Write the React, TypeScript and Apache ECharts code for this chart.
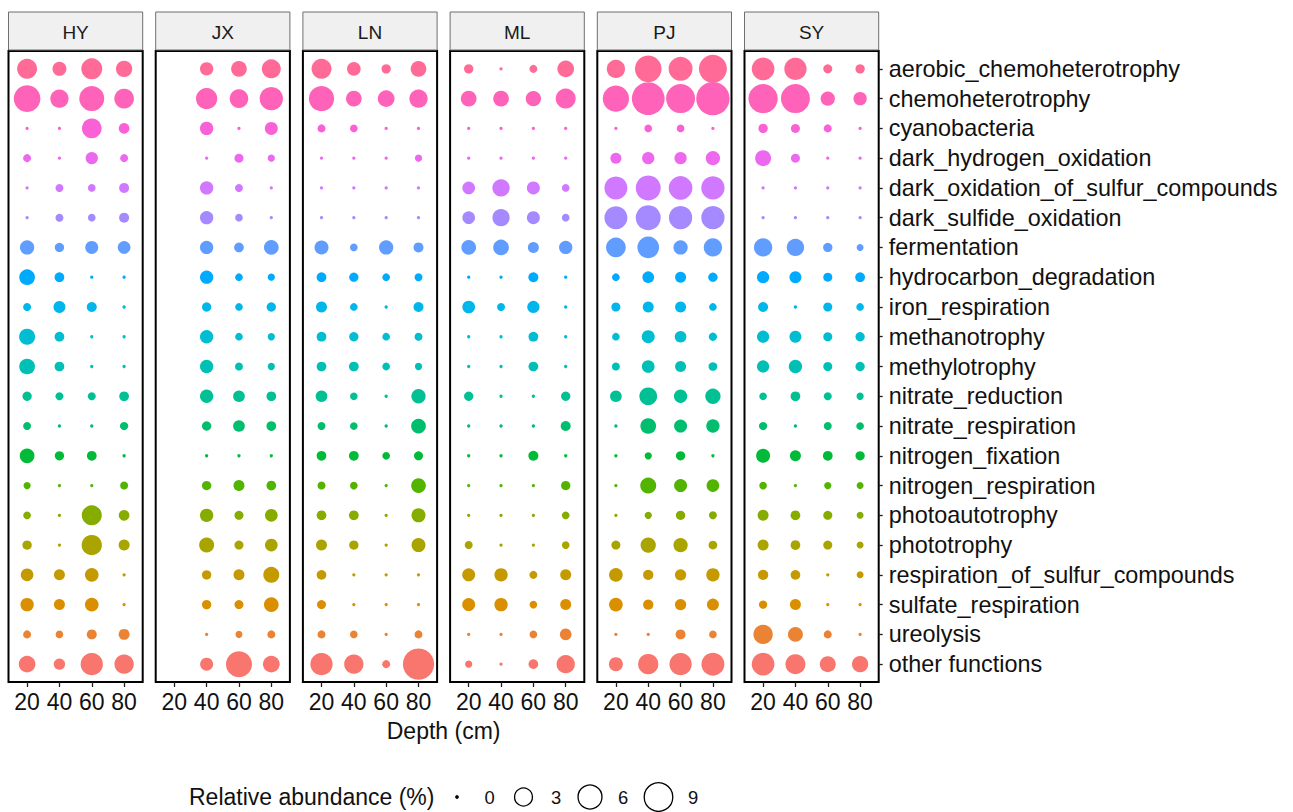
import React, { useEffect, useRef } from "react";
import * as echarts from "echarts";

const SITES = ["HY", "JX", "LN", "ML", "PJ", "SY"];
const DEPTHS = [20, 40, 60, 80];
const FUNCTIONS = [
  "aerobic_chemoheterotrophy",
  "chemoheterotrophy",
  "cyanobacteria",
  "dark_hydrogen_oxidation",
  "dark_oxidation_of_sulfur_compounds",
  "dark_sulfide_oxidation",
  "fermentation",
  "hydrocarbon_degradation",
  "iron_respiration",
  "methanotrophy",
  "methylotrophy",
  "nitrate_reduction",
  "nitrate_respiration",
  "nitrogen_fixation",
  "nitrogen_respiration",
  "photoautotrophy",
  "phototrophy",
  "respiration_of_sulfur_compounds",
  "sulfate_respiration",
  "ureolysis",
  "other functions",
];

// relative abundance (%) per function (rows, top to bottom) at depths 20, 40, 60, 80 cm
const HY = [
  [3.92, 1.61, 4.41, 2.38],
  [7.7, 3.16, 6.62, 3.78],
  [0, 0, 3.78, 0.77],
  [0.31, 0, 1.14, 0.31],
  [0, 0.31, 0.27, 0.63],
  [0, 0.31, 0.27, 0.63],
  [1.7, 0.51, 1.32, 1.24],
  [2.16, 0.58, 0, 0],
  [0.31, 1.06, 0.63, 0],
  [2.27, 0.58, 0, 0],
  [2.16, 0.58, 0, 0],
  [0.51, 0.31, 0.31, 0.58],
  [0.31, 0, 0, 0.35],
  [1.83, 0.51, 0.58, 0],
  [0.22, 0, 0, 0.31],
  [0.27, 0, 3.92, 0.77],
  [0.51, 0, 4.06, 0.83],
  [1.24, 0.83, 1.52, 0],
  [1.41, 0.83, 1.52, 0],
  [0.31, 0.27, 0.63, 0.83],
  [2.52, 0.9, 5.08, 3.6],
];
const JX = [
  [null, 1.41, 2.16, 3.47],
  [null, 4.56, 3.33, 5.62],
  [null, 1.41, 0, 1.32],
  [null, 0, 0.46, 0.22],
  [null, 1.41, 0.31, 0],
  [null, 1.41, 0.27, 0],
  [null, 1.41, 0.58, 1.83],
  [null, 1.41, 0.27, 0.22],
  [null, 0.51, 0.27, 0.51],
  [null, 1.41, 0.27, 0.22],
  [null, 1.41, 0.31, 0.22],
  [null, 1.41, 0.99, 0.58],
  [null, 0.51, 0.99, 0.58],
  [null, 0, 0, 0],
  [null, 0.51, 0.83, 0.58],
  [null, 1.41, 0.46, 1.24],
  [null, 1.92, 0.46, 1.24],
  [null, 0.51, 0.83, 2.27],
  [null, 0.51, 0.46, 1.83],
  [null, 0, 0.19, 0.31],
  [null, 1.32, 7.24, 2.52],
];
const LN = [
  [3.92, 1.52, 0.51, 2.16],
  [6.8, 2.16, 2.52, 3.16],
  [0.31, 0.27, 0, 0],
  [0, 0, 0, 0.22],
  [0, 0, 0, 0],
  [0, 0, 0, 0],
  [1.61, 0.27, 1.7, 0.63],
  [0.58, 0.51, 0.27, 0.31],
  [0.83, 0.27, 0, 0.63],
  [0.58, 0.51, 0.27, 0.31],
  [0.58, 0.58, 0.27, 0.22],
  [0.99, 0.27, 0, 1.7],
  [0.31, 0.27, 0, 1.83],
  [0.58, 0.58, 0.27, 0.46],
  [0.31, 0.27, 0, 1.83],
  [0.58, 0.58, 0, 1.61],
  [0.83, 0.51, 0, 1.61],
  [0.58, 0, 0, 0],
  [0.46, 0, 0, 0],
  [0.31, 0.27, 0, 0.31],
  [5.08, 3.6, 0.31, 11.02],
];
const ML = [
  [0.51, 0, 0.31, 2.52],
  [2.16, 2.16, 2.02, 3.92],
  [0, 0, 0, 0],
  [0, 0, 0, 0],
  [1.24, 2.76, 1.32, 0.27],
  [1.24, 2.76, 1.32, 0.27],
  [1.83, 2.16, 0.83, 1.41],
  [0, 0, 0.63, 0],
  [1.24, 0.31, 1.14, 0],
  [0, 0, 0.58, 0],
  [0, 0, 0.58, 0],
  [0.51, 0, 0, 0.51],
  [0, 0, 0, 0.63],
  [0, 0, 0.63, 0],
  [0, 0, 0, 0.51],
  [0, 0, 0, 0.27],
  [0.31, 0, 0, 0.27],
  [1.32, 1.41, 0.31, 0.83],
  [1.32, 1.41, 0.27, 0.83],
  [0, 0, 0.27, 0.99],
  [0.22, 0, 0.58, 3.16],
];
const PJ = [
  [3.16, 7.7, 6.02, 8.58],
  [7.44, 12.15, 9.29, 12.65],
  [0, 0.27, 0.27, 0],
  [0.83, 1.14, 1.14, 1.7],
  [5.46, 6.62, 5.85, 5.62],
  [5.46, 6.62, 5.62, 5.62],
  [3.78, 4.76, 1.7, 3.16],
  [0.27, 0.99, 0.83, 0.51],
  [0.46, 0.83, 0.83, 0.27],
  [0.27, 1.32, 0.99, 0.35],
  [0.31, 1.24, 0.83, 0.41],
  [0.99, 2.92, 1.41, 2.02],
  [0, 2.16, 1.32, 1.41],
  [0, 0.22, 0.51, 0],
  [0, 2.27, 1.32, 1.24],
  [0, 0.22, 0.51, 0.31],
  [0.46, 2.02, 1.7, 0.41],
  [1.52, 0.69, 0.9, 1.41],
  [1.52, 0.69, 0.9, 1.06],
  [0, 0, 0.63, 0.27],
  [1.61, 4.06, 5.08, 5.46],
];
const SY = [
  [5.29, 5.08, 0.46, 0.51],
  [9.5, 9.29, 1.7, 1.41],
  [0.51, 0.46, 0.31, 0],
  [2.27, 0.46, 0, 0],
  [0, 0, 0, 0],
  [0, 0, 0, 0],
  [3.16, 2.76, 0.51, 0.19],
  [1.14, 1.06, 0.46, 0.58],
  [0.63, 0, 0.46, 0.27],
  [1.14, 1.06, 0.46, 0.51],
  [1.14, 1.41, 0.46, 0.51],
  [0.27, 0.58, 0.31, 0.22],
  [0.35, 0, 0.31, 0.27],
  [1.61, 0.83, 0.58, 0.51],
  [0.27, 0, 0.22, 0.19],
  [0.83, 0.58, 0.46, 0.19],
  [0.83, 0.58, 0.46, 0.19],
  [0.69, 0.58, 0, 0.19],
  [0.35, 0.83, 0, 0],
  [3.6, 1.92, 0.31, 0],
  [5.29, 3.92, 2.27, 2.38],
];
const SITE_VALUES = [HY, JX, LN, ML, PJ, SY];
const SIZE_BREAKS = [0, 3, 6, 9];

// ---- styling / layout ----
const FONT = "'Liberation Sans', Arial, Helvetica, sans-serif";
const PANEL_LEFT0 = 8.5;
const PANEL_STEP = 147.2;
const PANEL_W = 134.2;
const PANEL_TOP = 51;
const PANEL_H = 631;
const STRIP_TOP = 12;
const STRIP_H = 38;

// area-style size scale (diameter in px)
const sizeOf = (v: number) => 3.3 + 25.3 * Math.sqrt(Math.max(v, 0) / 9);

// ggplot2 hue palette colour (HCL -> sRGB)
function hcl(h: number, c: number, l: number): string {
  const hr = (h * Math.PI) / 180;
  const U = c * Math.cos(hr);
  const V = c * Math.sin(hr);
  const Xn = 95.047, Yn = 100, Zn = 108.883;
  const Y = l > 8 ? Yn * Math.pow((l + 16) / 116, 3) : (Yn * l) / 903.3;
  const den = Xn + 15 * Yn + 3 * Zn;
  const un = (4 * Xn) / den;
  const vn = (9 * Yn) / den;
  const up = U / (13 * l) + un;
  const vp = V / (13 * l) + vn;
  const X = (Y * 9 * up) / (4 * vp);
  const Z = (Y * (12 - 3 * up - 20 * vp)) / (4 * vp);
  const x = X / 100, y = Y / 100, z = Z / 100;
  const lin = [
    3.2404542 * x - 1.5371385 * y - 0.4985314 * z,
    -0.969266 * x + 1.8760108 * y + 0.041556 * z,
    0.0556434 * x - 0.2040259 * y + 1.0572252 * z,
  ];
  const hex = lin
    .map((u) => {
      let g = u <= 0.0031308 ? 12.92 * u : 1.055 * Math.pow(u, 1 / 2.4) - 0.055;
      g = Math.min(1, Math.max(0, g));
      const s = Math.round(g * 255).toString(16);
      return s.length < 2 ? "0" + s : s;
    })
    .join("");
  return "#" + hex;
}

const N = FUNCTIONS.length;
// factor level 1 = bottom row ("other functions")
const ROW_COLORS = FUNCTIONS.map((_, r) => {
  const k = N - 1 - r;
  return hcl(15 + (k * 360) / N, 100, 65);
});
const ROW_POS = FUNCTIONS.map((_, r) => r + 1);

export default function App() {
  const ref = useRef<HTMLDivElement>(null);

  useEffect(() => {
    if (!ref.current) return;
    const chart = echarts.init(ref.current, undefined, { renderer: "svg" });

    const grids: any[] = [];
    const xAxes: any[] = [];
    const yAxes: any[] = [];
    const series: any[] = [];
    const graphics: any[] = [];

    SITES.forEach((site, i) => {
      const left = PANEL_LEFT0 + i * PANEL_STEP;
      grids.push({
        left,
        top: PANEL_TOP,
        width: PANEL_W,
        height: PANEL_H,
        show: true,
        borderColor: "#000",
        borderWidth: 2,
        backgroundColor: "#fff",
        containLabel: false,
        outerBoundsMode: "none",
      });
      xAxes.push({
        type: "value",
        gridIndex: i,
        min: 8.5,
        max: 91.5,
        splitLine: { show: false },
        axisLine: { show: false },
        axisTick: {
          show: true,
          length: 5,
          customValues: DEPTHS,
          lineStyle: { color: "#222", width: 1.3 },
        },
        axisLabel: {
          customValues: DEPTHS,
          fontSize: 23,
          color: "#111",
          margin: 8,
          fontFamily: FONT,
        },
      });
      const isLast = i === SITES.length - 1;
      yAxes.push({
        type: "value",
        gridIndex: i,
        min: 0.4,
        max: 21.6,
        inverse: true,
        position: "right",
        splitLine: { show: false },
        axisLine: { show: false },
        axisTick: {
          show: isLast,
          length: 4,
          customValues: ROW_POS,
          lineStyle: { color: "#222", width: 1.3 },
        },
        axisLabel: {
          show: isLast,
          customValues: ROW_POS,
          formatter: (v: number) => FUNCTIONS[Math.round(v) - 1] ?? "",
          fontSize: 23.4,
          color: "#111",
          margin: 10,
          fontFamily: FONT,
        },
      });
      const data: any[] = [];
      SITE_VALUES[i].forEach((row, r) => {
        row.forEach((v, d) => {
          if (v === null || v === undefined) return;
          data.push({
            value: [DEPTHS[d], r + 1, v],
            itemStyle: { color: ROW_COLORS[r] },
          });
        });
      });
      series.push({
        type: "scatter",
        name: site,
        xAxisIndex: i,
        yAxisIndex: i,
        symbol: "circle",
        symbolSize: (val: number[]) => sizeOf(val[2]),
        itemStyle: { opacity: 1 },
        clip: false,
        data,
      });
      graphics.push({
        type: "rect",
        shape: { x: left, y: STRIP_TOP, width: PANEL_W, height: STRIP_H },
        style: { fill: "#F0F0F0", stroke: "#6e6e6e", lineWidth: 1 },
        z: 10,
      });
      graphics.push({
        type: "text",
        x: left + PANEL_W / 2,
        y: STRIP_TOP + STRIP_H / 2 + 1,
        style: {
          text: site,
          fontSize: 19,
          fontFamily: FONT,
          fill: "#1a1a1a",
          align: "center",
          verticalAlign: "middle",
        },
        z: 11,
      });
    });

    // axis title
    const mid = PANEL_LEFT0 + (5 * PANEL_STEP + PANEL_W) / 2;
    graphics.push({
      type: "text",
      x: mid,
      y: 731,
      style: {
        text: "Depth (cm)",
        fontSize: 23,
        fontFamily: FONT,
        fill: "#111",
        align: "center",
        verticalAlign: "middle",
      },
    });

    // size legend
    graphics.push({
      type: "text",
      x: 189,
      y: 797,
      style: {
        text: "Relative abundance (%)",
        fontSize: 23,
        fontFamily: FONT,
        fill: "#111",
        align: "left",
        verticalAlign: "middle",
      },
    });
    const keyCenters = [457, 523.5, 590, 658.5];
    const labelCenters = [489.5, 556, 623, 693];
    SIZE_BREAKS.forEach((b, k) => {
      graphics.push({
        type: "circle",
        shape: { cx: keyCenters[k], cy: 797, r: sizeOf(b) / 2 },
        style: { fill: b === 0 ? "#000" : "none", stroke: "#000", lineWidth: b === 0 ? 0.5 : 1.3 },
      });
      graphics.push({
        type: "text",
        x: labelCenters[k],
        y: 797,
        style: {
          text: String(b),
          fontSize: 18.4,
          fontFamily: FONT,
          fill: "#111",
          align: "center",
          verticalAlign: "middle",
        },
      });
    });

    chart.setOption({
      animation: false,
      backgroundColor: "#fff",
      grid: grids,
      xAxis: xAxes,
      yAxis: yAxes,
      series,
      graphic: graphics,
    });

    return () => chart.dispose();
  }, []);

  return (
    <div
      ref={ref}
      style={{ position: "fixed", left: 0, top: 0, width: 1293, height: 812, background: "#fff" }}
    />
  );
}
